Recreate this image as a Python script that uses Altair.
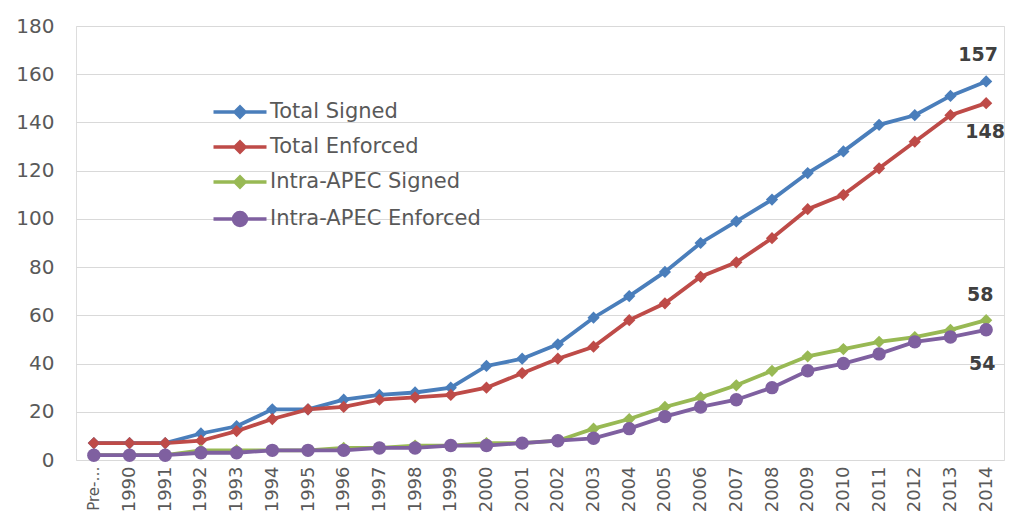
import altair as alt
import pandas as pd

years = ["Pre-1990", "1990", "1991", "1992", "1993", "1994", "1995", "1996", "1997",
         "1998", "1999", "2000", "2001", "2002", "2003", "2004", "2005", "2006",
         "2007", "2008", "2009", "2010", "2011", "2012", "2013", "2014"]
total_signed = [7, 7, 7, 11, 14, 21, 21, 25, 27, 28, 30, 39, 42, 48, 59, 68, 78, 90,
                99, 108, 119, 128, 139, 143, 151, 157]
total_enforced = [7, 7, 7, 8, 12, 17, 21, 22, 25, 26, 27, 30, 36, 42, 47, 58, 65, 76,
                  82, 92, 104, 110, 121, 132, 143, 148]
apec_signed = [2, 2, 2, 4, 4, 4, 4, 5, 5, 6, 6, 7, 7, 8, 13, 17, 22, 26,
               31, 37, 43, 46, 49, 51, 54, 58]
apec_enforced = [2, 2, 2, 3, 3, 4, 4, 4, 5, 5, 6, 6, 7, 8, 9, 13, 18, 22,
                 25, 30, 37, 40, 44, 49, 51, 54]
series_names = ["Total Signed", "Total Enforced", "Intra-APEC Signed", "Intra-APEC Enforced"]
series_colors = ["#4A7EBB", "#BE4B48", "#98B954", "#7F60A0"]
series_values = [total_signed, total_enforced, apec_signed, apec_enforced]

rows = []
for name, vals in zip(series_names, series_values):
    for y, v in zip(years, vals):
        rows.append({"year": y, "series": name, "value": v})
df = pd.DataFrame(rows)

FONT = "DejaVu Sans"
GRAY = "#595959"

diam = "M-2.65,0H2.65M-0.5,0L0,-0.5L0.5,0L0,0.5Z"
circ = "M-2.65,0H2.65M0.65,0A0.65,0.65,0,1,1,-0.65,0A0.65,0.65,0,1,1,0.65,0Z"
legend_shapes = [diam, diam, diam, circ]

x = alt.X(
    "year:N", sort=years, title=None,
    scale=alt.Scale(type="point", padding=0.5),
    axis=alt.Axis(labelAngle=270, labelFont=FONT,
                  labelFontSize={"condition": {"test": "datum.value == 'Pre-1990'", "value": 15},
                                 "value": 18},
                  labelColor=GRAY, labelPadding=6, ticks=False, domain=False, grid=False,
                  labelExpr="datum.value == 'Pre-1990' ? 'Pre-…' : datum.value"),
)
y = alt.Y(
    "value:Q", title=None,
    scale=alt.Scale(domain=[0, 180]),
    axis=alt.Axis(values=list(range(0, 181, 20)), labelFont=FONT, labelFontSize=20,
                  labelColor=GRAY, labelPadding=22, ticks=False, domain=False,
                  gridColor="#D9D9D9", gridWidth=1),
)

legend = alt.Legend(
    orient="none", legendX=152, legendY=74, title=None,
    labelFont=FONT, labelFontSize=21, labelColor=GRAY, labelLimit=500,
    symbolSize=400, symbolStrokeWidth=3.5, symbolOpacity=1,
    padding=0, rowPadding=11, labelOffset=18,
)

color = alt.Color("series:N", scale=alt.Scale(domain=series_names, range=series_colors),
                  legend=legend)
shape = alt.Shape("series:N", scale=alt.Scale(domain=series_names, range=legend_shapes),
                  legend=legend)

base = alt.Chart(df)
lines = base.mark_line(strokeWidth=3.8).encode(x=x, y=y, color=color, shape=shape,
                                               detail="series:N")
diamonds = base.transform_filter(alt.datum.series != "Intra-APEC Enforced").mark_point(
    shape="diamond", filled=True, size=150, opacity=1).encode(x=x, y=y, color=color)
circles = base.transform_filter(alt.datum.series == "Intra-APEC Enforced").mark_circle(
    size=180, opacity=1).encode(x=x, y=y, color=color)


def end_label(series, dx, dy):
    return base.transform_filter(
        (alt.datum.year == "2014") & (alt.datum.series == series)
    ).mark_text(font=FONT, fontSize=19, fontWeight="bold", color="#404040",
                dx=dx, dy=dy).encode(x=x, y=y, text="value:Q")


labels = [
    end_label("Total Signed", -8, -26),
    end_label("Total Enforced", -1, 29),
    end_label("Intra-APEC Signed", -6, -25),
    end_label("Intra-APEC Enforced", -4, 34),
]

chart = alt.layer(lines, diamonds, circles, *labels).properties(
    width=928, height=434,
    autosize=alt.AutoSizeParams(type="none"),
    padding={"left": 68, "top": 18, "right": 1, "bottom": 54},
).configure_view(stroke=None).configure(background="white")

chart.save("out.html", embed_options={"renderer": "svg", "actions": False})
